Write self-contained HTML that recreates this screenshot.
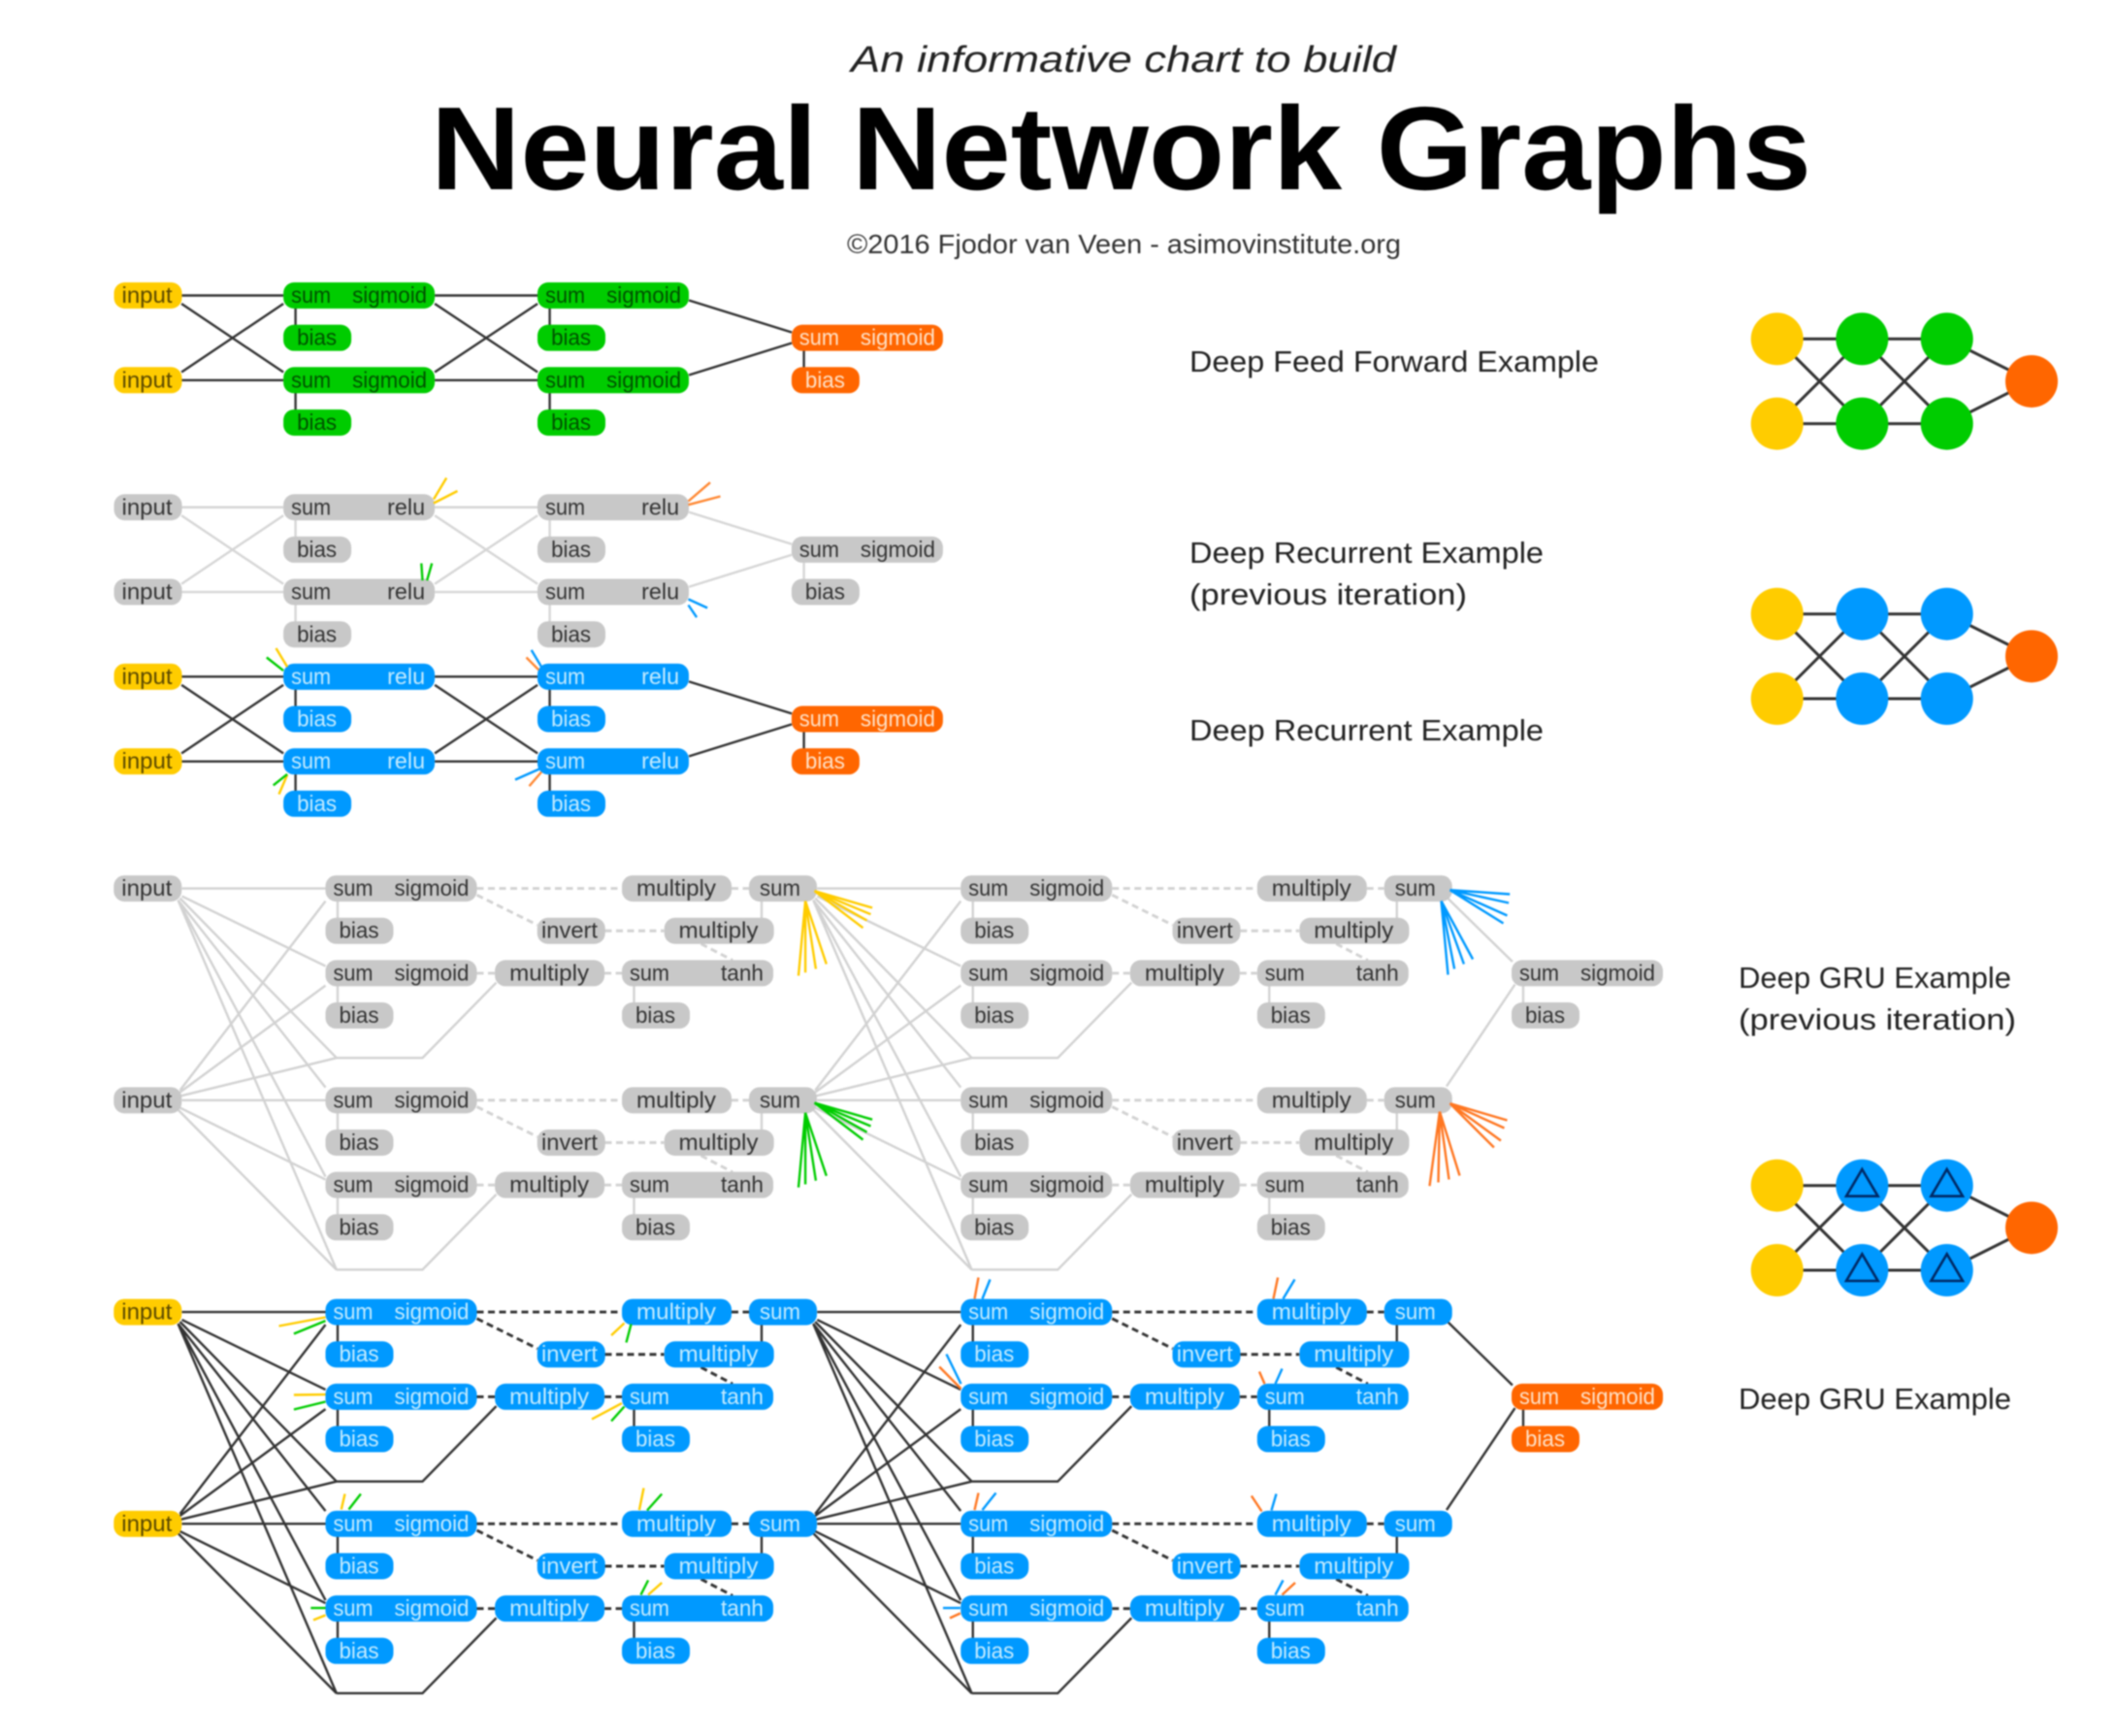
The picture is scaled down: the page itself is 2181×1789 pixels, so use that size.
<!DOCTYPE html>
<html>
<head>
<meta charset="utf-8">
<style>
html,body{margin:0;padding:0;background:#fff;width:2181px;height:1789px;overflow:hidden}
svg{display:block;filter:blur(0.7px)}
text{font-family:"Liberation Sans",sans-serif;font-size:23px}
.title{font-weight:bold;font-size:122px;fill:#000}
.sub{font-style:italic;font-size:38px;fill:#222}
.copy{font-size:28px;fill:#333}
.lab{font-size:31px;fill:#222}
.tg text{fill:#333}
.tb text{fill:#c4ebff}
.tn text{fill:#005000}
.to text{fill:#ffe2c8}
.ty{fill:#5a4800}
.ln{fill:none;stroke-width:2.4}
.tk{fill:none;stroke-width:2.4}
</style>
</head>
<body>
<svg xmlns="http://www.w3.org/2000/svg" width="2181" height="1789" viewBox="0 0 2181 1789">
<defs>
<rect id="a" y="-13.5" width="70" height="27" rx="11"/>
<rect id="b" y="-13.5" width="113" height="27" rx="11"/>
<rect id="c" y="-13.5" width="156" height="27" rx="11"/>

<g id="ffl" class="ln">
<path d="M-105 0H0M-105 87.3H0M-105 8.5L0 79M-105 79L0 8.5M156 0H262M156 87.3H262M156 8.5L262 79M156 79L262 8.5M418 5L524 38M418 82L524 49M12.5 0V43.65M12.5 87.3V131M274.5 0V43.65M274.5 87.3V131M536.5 43.65V87.3"/>
</g>

<g id="fan" class="ln">
<path d="M-148 0H0M-148 8L0 80M-150 10L11.4 174.6M-152 12L0 205M-152 12L0 297M-152 12L11.4 393"/>
<path d="M-148 218.25H0M-150 208L0 13M-150 210L0 100M-150 214L11.4 174.6M-150 226L0 300M-152 228L11.4 393"/>
</g>

<g id="cl" class="ln">
<path d="M12.5 0V43.65M12.5 87.3V131M318 87.3V131M449.5 0V43.65"/>
<path d="M176 97L100 174.6H11.4"/>
<path stroke-width="2.9" stroke-dasharray="7 4.5" d="M156 0H305.5M418.5 0H436.5M156 6.7L218.5 37.7M288 43.65H349M387 57L419.6 74M156 87.3H174.6M287.6 87.3H305.5"/>
</g>

<g id="cp">
<use href="#c" x="0" y="0"/>
<use href="#a" x="0" y="43.65"/>
<use href="#b" x="305.55" y="0"/>
<use href="#a" x="436.5" y="0"/>
<use href="#a" x="218.25" y="43.65"/>
<use href="#b" x="349.2" y="43.65"/>
<use href="#c" x="0" y="87.3"/>
<use href="#a" x="0" y="130.95"/>
<use href="#b" x="174.6" y="87.3"/>
<use href="#c" x="305.55" y="87.3"/>
<use href="#a" x="305.55" y="130.95"/>
</g>

<g id="net" fill="none" stroke="#333" stroke-width="3">
<path d="M0 0H175M0 87.3H175M0 0L87.5 87.3M0 87.3L87.5 0M87.5 0L175 87.3M87.5 87.3L175 0M175 0L262.3 43.65M175 87.3L262.3 43.65"/>
</g>
<path id="tri" d="M0 -16.7L16.3 11H-16.3Z" fill="none" stroke="#002a66" stroke-width="2.6"/>
</defs>

<rect width="2181" height="1789" fill="#fff"/>

<!-- Titles -->
<text class="sub" x="877" y="74" textLength="562" lengthAdjust="spacingAndGlyphs">An informative chart to build</text>
<text class="title" x="444" y="195" textLength="1423" lengthAdjust="spacingAndGlyphs">Neural Network Graphs</text>
<text class="copy" x="873" y="261" textLength="571" lengthAdjust="spacingAndGlyphs">©2016 Fjodor van Veen - asimovinstitute.org</text>

<text class="lab" x="1226" y="383" textLength="422" lengthAdjust="spacingAndGlyphs">Deep Feed Forward Example</text>
<text class="lab" x="1226" y="580" textLength="365" lengthAdjust="spacingAndGlyphs">Deep Recurrent Example</text>
<text class="lab" x="1226" y="623" textLength="286" lengthAdjust="spacingAndGlyphs">(previous iteration)</text>
<text class="lab" x="1226" y="763" textLength="365" lengthAdjust="spacingAndGlyphs">Deep Recurrent Example</text>
<text class="lab" x="1792" y="1018" textLength="281" lengthAdjust="spacingAndGlyphs">Deep GRU Example</text>
<text class="lab" x="1792" y="1061" textLength="286" lengthAdjust="spacingAndGlyphs">(previous iteration)</text>
<text class="lab" x="1792" y="1452" textLength="281" lengthAdjust="spacingAndGlyphs">Deep GRU Example</text>

<g transform="translate(-2.5,-1.5)">
<!-- Deep feed forward -->
<g transform="translate(294.6,306)">
<use href="#ffl" stroke="#333"/>
<g fill="#ffcc00"><use href="#a" x="-174.6" y="0"/><use href="#a" x="-174.6" y="87.3"/></g>
<g fill="#00cc00"><use href="#c" x="0" y="0"/><use href="#a" x="0" y="43.65"/><use href="#c" x="0" y="87.3"/><use href="#a" x="0" y="130.95"/><use href="#c" x="261.9" y="0"/><use href="#a" x="261.9" y="43.65"/><use href="#c" x="261.9" y="87.3"/><use href="#a" x="261.9" y="130.95"/></g>
<g fill="#ff6600"><use href="#c" x="523.8" y="43.65"/><use href="#a" x="523.8" y="87.3"/></g>
<text class="ty" x="-166.6" y="7.5" textLength="52" lengthAdjust="spacingAndGlyphs">input</text>
<text class="ty" x="-166.6" y="94.8" textLength="52" lengthAdjust="spacingAndGlyphs">input</text>
<g class="tn">
<text x="8" y="7.5" textLength="41" lengthAdjust="spacingAndGlyphs">sum</text><text x="71" y="7.5" textLength="77" lengthAdjust="spacingAndGlyphs">sigmoid</text>
<text x="14" y="51" textLength="41" lengthAdjust="spacingAndGlyphs">bias</text>
<text x="8" y="94.8" textLength="41" lengthAdjust="spacingAndGlyphs">sum</text><text x="71" y="94.8" textLength="77" lengthAdjust="spacingAndGlyphs">sigmoid</text>
<text x="14" y="138.5" textLength="41" lengthAdjust="spacingAndGlyphs">bias</text>
<text x="270" y="7.5" textLength="41" lengthAdjust="spacingAndGlyphs">sum</text><text x="333" y="7.5" textLength="77" lengthAdjust="spacingAndGlyphs">sigmoid</text>
<text x="276" y="51" textLength="41" lengthAdjust="spacingAndGlyphs">bias</text>
<text x="270" y="94.8" textLength="41" lengthAdjust="spacingAndGlyphs">sum</text><text x="333" y="94.8" textLength="77" lengthAdjust="spacingAndGlyphs">sigmoid</text>
<text x="276" y="138.5" textLength="41" lengthAdjust="spacingAndGlyphs">bias</text>
</g>
<g class="to">
<text x="531.8" y="51" textLength="41" lengthAdjust="spacingAndGlyphs">sum</text><text x="594.8" y="51" textLength="77" lengthAdjust="spacingAndGlyphs">sigmoid</text>
<text x="537.8" y="94.8" textLength="41" lengthAdjust="spacingAndGlyphs">bias</text>
</g>
</g>

<!-- Deep recurrent previous (grey) -->
<g transform="translate(294.6,524.25)">
<use href="#ffl" stroke="#d6d6d6"/>
<g fill="#c8c8c8"><use href="#a" x="-174.6" y="0"/><use href="#a" x="-174.6" y="87.3"/><use href="#c" x="0" y="0"/><use href="#a" x="0" y="43.65"/><use href="#c" x="0" y="87.3"/><use href="#a" x="0" y="130.95"/><use href="#c" x="261.9" y="0"/><use href="#a" x="261.9" y="43.65"/><use href="#c" x="261.9" y="87.3"/><use href="#a" x="261.9" y="130.95"/><use href="#c" x="523.8" y="43.65"/><use href="#a" x="523.8" y="87.3"/></g>
<g class="tg">
<text x="-166.6" y="7.5" textLength="52" lengthAdjust="spacingAndGlyphs">input</text>
<text x="-166.6" y="94.8" textLength="52" lengthAdjust="spacingAndGlyphs">input</text>
<text x="8" y="7.5" textLength="41" lengthAdjust="spacingAndGlyphs">sum</text><text x="107" y="7.5" textLength="39" lengthAdjust="spacingAndGlyphs">relu</text>
<text x="14" y="51" textLength="41" lengthAdjust="spacingAndGlyphs">bias</text>
<text x="8" y="94.8" textLength="41" lengthAdjust="spacingAndGlyphs">sum</text><text x="107" y="94.8" textLength="39" lengthAdjust="spacingAndGlyphs">relu</text>
<text x="14" y="138.5" textLength="41" lengthAdjust="spacingAndGlyphs">bias</text>
<text x="270" y="7.5" textLength="41" lengthAdjust="spacingAndGlyphs">sum</text><text x="369" y="7.5" textLength="39" lengthAdjust="spacingAndGlyphs">relu</text>
<text x="276" y="51" textLength="41" lengthAdjust="spacingAndGlyphs">bias</text>
<text x="270" y="94.8" textLength="41" lengthAdjust="spacingAndGlyphs">sum</text><text x="369" y="94.8" textLength="39" lengthAdjust="spacingAndGlyphs">relu</text>
<text x="276" y="138.5" textLength="41" lengthAdjust="spacingAndGlyphs">bias</text>
<text x="531.8" y="51" textLength="41" lengthAdjust="spacingAndGlyphs">sum</text><text x="594.8" y="51" textLength="77" lengthAdjust="spacingAndGlyphs">sigmoid</text>
<text x="537.8" y="94.8" textLength="41" lengthAdjust="spacingAndGlyphs">bias</text>
</g>
</g>

<!-- Deep recurrent (blue) -->
<g transform="translate(294.6,698.85)">
<use href="#ffl" stroke="#333"/>
<g fill="#ffcc00"><use href="#a" x="-174.6" y="0"/><use href="#a" x="-174.6" y="87.3"/></g>
<g fill="#0099ff"><use href="#c" x="0" y="0"/><use href="#a" x="0" y="43.65"/><use href="#c" x="0" y="87.3"/><use href="#a" x="0" y="130.95"/><use href="#c" x="261.9" y="0"/><use href="#a" x="261.9" y="43.65"/><use href="#c" x="261.9" y="87.3"/><use href="#a" x="261.9" y="130.95"/></g>
<g fill="#ff6600"><use href="#c" x="523.8" y="43.65"/><use href="#a" x="523.8" y="87.3"/></g>
<text class="ty" x="-166.6" y="7.5" textLength="52" lengthAdjust="spacingAndGlyphs">input</text>
<text class="ty" x="-166.6" y="94.8" textLength="52" lengthAdjust="spacingAndGlyphs">input</text>
<g class="tb">
<text x="8" y="7.5" textLength="41" lengthAdjust="spacingAndGlyphs">sum</text><text x="107" y="7.5" textLength="39" lengthAdjust="spacingAndGlyphs">relu</text>
<text x="14" y="51" textLength="41" lengthAdjust="spacingAndGlyphs">bias</text>
<text x="8" y="94.8" textLength="41" lengthAdjust="spacingAndGlyphs">sum</text><text x="107" y="94.8" textLength="39" lengthAdjust="spacingAndGlyphs">relu</text>
<text x="14" y="138.5" textLength="41" lengthAdjust="spacingAndGlyphs">bias</text>
<text x="270" y="7.5" textLength="41" lengthAdjust="spacingAndGlyphs">sum</text><text x="369" y="7.5" textLength="39" lengthAdjust="spacingAndGlyphs">relu</text>
<text x="276" y="51" textLength="41" lengthAdjust="spacingAndGlyphs">bias</text>
<text x="270" y="94.8" textLength="41" lengthAdjust="spacingAndGlyphs">sum</text><text x="369" y="94.8" textLength="39" lengthAdjust="spacingAndGlyphs">relu</text>
<text x="276" y="138.5" textLength="41" lengthAdjust="spacingAndGlyphs">bias</text>
</g>
<g class="to">
<text x="531.8" y="51" textLength="41" lengthAdjust="spacingAndGlyphs">sum</text><text x="594.8" y="51" textLength="77" lengthAdjust="spacingAndGlyphs">sigmoid</text>
<text x="537.8" y="94.8" textLength="41" lengthAdjust="spacingAndGlyphs">bias</text>
</g>
</g>

<!-- Small ticks, recurrent sections -->
<g class="tk">
<path stroke="#ffcc00" d="M449.5 516L462.7 494M449.5 520L474 507.5"/>
<path stroke="#ff8833" d="M712 518L734.5 498.7M712 521.7L745 513"/>
<path stroke="#00cc00" d="M438 599.7L436.8 582M442.6 599.7L447.7 582"/>
<path stroke="#0099ff" d="M712 625L720.6 637.7M712 619L731.6 628"/>
<path stroke="#ffcc00" d="M298.6 688.7L287 669.5M298.6 800L290 820"/>
<path stroke="#00cc00" d="M294.6 692.6L277.3 679M298.6 799.3L284.2 810.8"/>
<path stroke="#0099ff" d="M560.6 688.7L550.2 671.4M560.6 793L533.5 805"/>
<path stroke="#ff8833" d="M557.7 691.8L545 679M560.6 797L548 811.6"/>
</g>

<!-- GRU grey lines -->
<g stroke="#d2d2d2">
<use href="#fan" x="338" y="917.1"/>
<use href="#fan" x="992.75" y="917.1"/>
<use href="#cl" x="338" y="917.1"/>
<use href="#cl" x="338" y="1135.35"/>
<use href="#cl" x="992.75" y="917.1"/>
<use href="#cl" x="992.75" y="1135.35"/>
<path class="ln" d="M1495 927.5L1561.4 992.5M1493.5 1121L1564 1016M1572.5 1004.4V1048"/>
</g>

<!-- GRU blue lines -->
<g stroke="#333">
<use href="#fan" x="338" y="1353.6"/>
<use href="#fan" x="992.75" y="1353.6"/>
<use href="#cl" x="338" y="1353.6"/>
<use href="#cl" x="338" y="1571.85"/>
<use href="#cl" x="992.75" y="1353.6"/>
<use href="#cl" x="992.75" y="1571.85"/>
<path class="ln" d="M1495 1364L1561.4 1429M1493.5 1557.6L1564 1452.6M1572.5 1441V1484.6"/>
</g>

<!-- GRU grey pills -->
<g fill="#c8c8c8">
<use href="#a" x="119.75" y="917.1"/><use href="#a" x="119.75" y="1135.35"/>
<use href="#cp" x="338" y="917.1"/><use href="#cp" x="338" y="1135.35"/>
<use href="#cp" x="992.75" y="917.1"/><use href="#cp" x="992.75" y="1135.35"/>
<use href="#c" x="1560.5" y="1004.4"/><use href="#a" x="1560.5" y="1048"/>
</g>
<!-- GRU blue pills -->
<g fill="#ffcc00"><use href="#a" x="119.75" y="1353.6"/><use href="#a" x="119.75" y="1571.85"/></g>
<g fill="#0099ff">
<use href="#cp" x="338" y="1353.6"/><use href="#cp" x="338" y="1571.85"/>
<use href="#cp" x="992.75" y="1353.6"/><use href="#cp" x="992.75" y="1571.85"/>
</g>
<g fill="#ff6600"><use href="#c" x="1560.5" y="1440.9"/><use href="#a" x="1560.5" y="1484.55"/></g>

<!-- GRU text grey -->
<g class="tg">
<text x="127.75" y="924.6" textLength="52" lengthAdjust="spacingAndGlyphs">input</text>
<text x="127.75" y="1142.85" textLength="52" lengthAdjust="spacingAndGlyphs">input</text>
<text x="1568.5" y="1011.9" textLength="41" lengthAdjust="spacingAndGlyphs">sum</text><text x="1631.5" y="1011.9" textLength="77" lengthAdjust="spacingAndGlyphs">sigmoid</text>
<text x="1574.5" y="1055.5" textLength="41" lengthAdjust="spacingAndGlyphs">bias</text>
<g transform="translate(338,917.1)">
<text x="8" y="7.5" textLength="41" lengthAdjust="spacingAndGlyphs">sum</text><text x="71" y="7.5" textLength="77" lengthAdjust="spacingAndGlyphs">sigmoid</text><text x="14" y="51" textLength="41" lengthAdjust="spacingAndGlyphs">bias</text><text x="320.5" y="7.5" textLength="82" lengthAdjust="spacingAndGlyphs">multiply</text><text x="447.5" y="7.5" textLength="42" lengthAdjust="spacingAndGlyphs">sum</text><text x="222.5" y="51" textLength="58" lengthAdjust="spacingAndGlyphs">invert</text><text x="364" y="51" textLength="82" lengthAdjust="spacingAndGlyphs">multiply</text><text x="8" y="94.8" textLength="41" lengthAdjust="spacingAndGlyphs">sum</text><text x="71" y="94.8" textLength="77" lengthAdjust="spacingAndGlyphs">sigmoid</text><text x="14" y="138.5" textLength="41" lengthAdjust="spacingAndGlyphs">bias</text><text x="189.6" y="94.8" textLength="82" lengthAdjust="spacingAndGlyphs">multiply</text><text x="313.5" y="94.8" textLength="41" lengthAdjust="spacingAndGlyphs">sum</text><text x="407.5" y="94.8" textLength="44" lengthAdjust="spacingAndGlyphs">tanh</text><text x="319.5" y="138.5" textLength="41" lengthAdjust="spacingAndGlyphs">bias</text>
</g>
<g transform="translate(338,1135.35)">
<text x="8" y="7.5" textLength="41" lengthAdjust="spacingAndGlyphs">sum</text><text x="71" y="7.5" textLength="77" lengthAdjust="spacingAndGlyphs">sigmoid</text><text x="14" y="51" textLength="41" lengthAdjust="spacingAndGlyphs">bias</text><text x="320.5" y="7.5" textLength="82" lengthAdjust="spacingAndGlyphs">multiply</text><text x="447.5" y="7.5" textLength="42" lengthAdjust="spacingAndGlyphs">sum</text><text x="222.5" y="51" textLength="58" lengthAdjust="spacingAndGlyphs">invert</text><text x="364" y="51" textLength="82" lengthAdjust="spacingAndGlyphs">multiply</text><text x="8" y="94.8" textLength="41" lengthAdjust="spacingAndGlyphs">sum</text><text x="71" y="94.8" textLength="77" lengthAdjust="spacingAndGlyphs">sigmoid</text><text x="14" y="138.5" textLength="41" lengthAdjust="spacingAndGlyphs">bias</text><text x="189.6" y="94.8" textLength="82" lengthAdjust="spacingAndGlyphs">multiply</text><text x="313.5" y="94.8" textLength="41" lengthAdjust="spacingAndGlyphs">sum</text><text x="407.5" y="94.8" textLength="44" lengthAdjust="spacingAndGlyphs">tanh</text><text x="319.5" y="138.5" textLength="41" lengthAdjust="spacingAndGlyphs">bias</text>
</g>
<g transform="translate(992.75,917.1)">
<text x="8" y="7.5" textLength="41" lengthAdjust="spacingAndGlyphs">sum</text><text x="71" y="7.5" textLength="77" lengthAdjust="spacingAndGlyphs">sigmoid</text><text x="14" y="51" textLength="41" lengthAdjust="spacingAndGlyphs">bias</text><text x="320.5" y="7.5" textLength="82" lengthAdjust="spacingAndGlyphs">multiply</text><text x="447.5" y="7.5" textLength="42" lengthAdjust="spacingAndGlyphs">sum</text><text x="222.5" y="51" textLength="58" lengthAdjust="spacingAndGlyphs">invert</text><text x="364" y="51" textLength="82" lengthAdjust="spacingAndGlyphs">multiply</text><text x="8" y="94.8" textLength="41" lengthAdjust="spacingAndGlyphs">sum</text><text x="71" y="94.8" textLength="77" lengthAdjust="spacingAndGlyphs">sigmoid</text><text x="14" y="138.5" textLength="41" lengthAdjust="spacingAndGlyphs">bias</text><text x="189.6" y="94.8" textLength="82" lengthAdjust="spacingAndGlyphs">multiply</text><text x="313.5" y="94.8" textLength="41" lengthAdjust="spacingAndGlyphs">sum</text><text x="407.5" y="94.8" textLength="44" lengthAdjust="spacingAndGlyphs">tanh</text><text x="319.5" y="138.5" textLength="41" lengthAdjust="spacingAndGlyphs">bias</text>
</g>
<g transform="translate(992.75,1135.35)">
<text x="8" y="7.5" textLength="41" lengthAdjust="spacingAndGlyphs">sum</text><text x="71" y="7.5" textLength="77" lengthAdjust="spacingAndGlyphs">sigmoid</text><text x="14" y="51" textLength="41" lengthAdjust="spacingAndGlyphs">bias</text><text x="320.5" y="7.5" textLength="82" lengthAdjust="spacingAndGlyphs">multiply</text><text x="447.5" y="7.5" textLength="42" lengthAdjust="spacingAndGlyphs">sum</text><text x="222.5" y="51" textLength="58" lengthAdjust="spacingAndGlyphs">invert</text><text x="364" y="51" textLength="82" lengthAdjust="spacingAndGlyphs">multiply</text><text x="8" y="94.8" textLength="41" lengthAdjust="spacingAndGlyphs">sum</text><text x="71" y="94.8" textLength="77" lengthAdjust="spacingAndGlyphs">sigmoid</text><text x="14" y="138.5" textLength="41" lengthAdjust="spacingAndGlyphs">bias</text><text x="189.6" y="94.8" textLength="82" lengthAdjust="spacingAndGlyphs">multiply</text><text x="313.5" y="94.8" textLength="41" lengthAdjust="spacingAndGlyphs">sum</text><text x="407.5" y="94.8" textLength="44" lengthAdjust="spacingAndGlyphs">tanh</text><text x="319.5" y="138.5" textLength="41" lengthAdjust="spacingAndGlyphs">bias</text>
</g>
</g>

<!-- GRU text blue -->
<text class="ty" x="127.75" y="1361.1" textLength="52" lengthAdjust="spacingAndGlyphs">input</text>
<text class="ty" x="127.75" y="1579.35" textLength="52" lengthAdjust="spacingAndGlyphs">input</text>
<g class="to">
<text x="1568.5" y="1448.4" textLength="41" lengthAdjust="spacingAndGlyphs">sum</text><text x="1631.5" y="1448.4" textLength="77" lengthAdjust="spacingAndGlyphs">sigmoid</text>
<text x="1574.5" y="1492" textLength="41" lengthAdjust="spacingAndGlyphs">bias</text>
</g>
<g class="tb">
<g transform="translate(338,1353.6)">
<text x="8" y="7.5" textLength="41" lengthAdjust="spacingAndGlyphs">sum</text><text x="71" y="7.5" textLength="77" lengthAdjust="spacingAndGlyphs">sigmoid</text><text x="14" y="51" textLength="41" lengthAdjust="spacingAndGlyphs">bias</text><text x="320.5" y="7.5" textLength="82" lengthAdjust="spacingAndGlyphs">multiply</text><text x="447.5" y="7.5" textLength="42" lengthAdjust="spacingAndGlyphs">sum</text><text x="222.5" y="51" textLength="58" lengthAdjust="spacingAndGlyphs">invert</text><text x="364" y="51" textLength="82" lengthAdjust="spacingAndGlyphs">multiply</text><text x="8" y="94.8" textLength="41" lengthAdjust="spacingAndGlyphs">sum</text><text x="71" y="94.8" textLength="77" lengthAdjust="spacingAndGlyphs">sigmoid</text><text x="14" y="138.5" textLength="41" lengthAdjust="spacingAndGlyphs">bias</text><text x="189.6" y="94.8" textLength="82" lengthAdjust="spacingAndGlyphs">multiply</text><text x="313.5" y="94.8" textLength="41" lengthAdjust="spacingAndGlyphs">sum</text><text x="407.5" y="94.8" textLength="44" lengthAdjust="spacingAndGlyphs">tanh</text><text x="319.5" y="138.5" textLength="41" lengthAdjust="spacingAndGlyphs">bias</text>
</g>
<g transform="translate(338,1571.85)">
<text x="8" y="7.5" textLength="41" lengthAdjust="spacingAndGlyphs">sum</text><text x="71" y="7.5" textLength="77" lengthAdjust="spacingAndGlyphs">sigmoid</text><text x="14" y="51" textLength="41" lengthAdjust="spacingAndGlyphs">bias</text><text x="320.5" y="7.5" textLength="82" lengthAdjust="spacingAndGlyphs">multiply</text><text x="447.5" y="7.5" textLength="42" lengthAdjust="spacingAndGlyphs">sum</text><text x="222.5" y="51" textLength="58" lengthAdjust="spacingAndGlyphs">invert</text><text x="364" y="51" textLength="82" lengthAdjust="spacingAndGlyphs">multiply</text><text x="8" y="94.8" textLength="41" lengthAdjust="spacingAndGlyphs">sum</text><text x="71" y="94.8" textLength="77" lengthAdjust="spacingAndGlyphs">sigmoid</text><text x="14" y="138.5" textLength="41" lengthAdjust="spacingAndGlyphs">bias</text><text x="189.6" y="94.8" textLength="82" lengthAdjust="spacingAndGlyphs">multiply</text><text x="313.5" y="94.8" textLength="41" lengthAdjust="spacingAndGlyphs">sum</text><text x="407.5" y="94.8" textLength="44" lengthAdjust="spacingAndGlyphs">tanh</text><text x="319.5" y="138.5" textLength="41" lengthAdjust="spacingAndGlyphs">bias</text>
</g>
<g transform="translate(992.75,1353.6)">
<text x="8" y="7.5" textLength="41" lengthAdjust="spacingAndGlyphs">sum</text><text x="71" y="7.5" textLength="77" lengthAdjust="spacingAndGlyphs">sigmoid</text><text x="14" y="51" textLength="41" lengthAdjust="spacingAndGlyphs">bias</text><text x="320.5" y="7.5" textLength="82" lengthAdjust="spacingAndGlyphs">multiply</text><text x="447.5" y="7.5" textLength="42" lengthAdjust="spacingAndGlyphs">sum</text><text x="222.5" y="51" textLength="58" lengthAdjust="spacingAndGlyphs">invert</text><text x="364" y="51" textLength="82" lengthAdjust="spacingAndGlyphs">multiply</text><text x="8" y="94.8" textLength="41" lengthAdjust="spacingAndGlyphs">sum</text><text x="71" y="94.8" textLength="77" lengthAdjust="spacingAndGlyphs">sigmoid</text><text x="14" y="138.5" textLength="41" lengthAdjust="spacingAndGlyphs">bias</text><text x="189.6" y="94.8" textLength="82" lengthAdjust="spacingAndGlyphs">multiply</text><text x="313.5" y="94.8" textLength="41" lengthAdjust="spacingAndGlyphs">sum</text><text x="407.5" y="94.8" textLength="44" lengthAdjust="spacingAndGlyphs">tanh</text><text x="319.5" y="138.5" textLength="41" lengthAdjust="spacingAndGlyphs">bias</text>
</g>
<g transform="translate(992.75,1571.85)">
<text x="8" y="7.5" textLength="41" lengthAdjust="spacingAndGlyphs">sum</text><text x="71" y="7.5" textLength="77" lengthAdjust="spacingAndGlyphs">sigmoid</text><text x="14" y="51" textLength="41" lengthAdjust="spacingAndGlyphs">bias</text><text x="320.5" y="7.5" textLength="82" lengthAdjust="spacingAndGlyphs">multiply</text><text x="447.5" y="7.5" textLength="42" lengthAdjust="spacingAndGlyphs">sum</text><text x="222.5" y="51" textLength="58" lengthAdjust="spacingAndGlyphs">invert</text><text x="364" y="51" textLength="82" lengthAdjust="spacingAndGlyphs">multiply</text><text x="8" y="94.8" textLength="41" lengthAdjust="spacingAndGlyphs">sum</text><text x="71" y="94.8" textLength="77" lengthAdjust="spacingAndGlyphs">sigmoid</text><text x="14" y="138.5" textLength="41" lengthAdjust="spacingAndGlyphs">bias</text><text x="189.6" y="94.8" textLength="82" lengthAdjust="spacingAndGlyphs">multiply</text><text x="313.5" y="94.8" textLength="41" lengthAdjust="spacingAndGlyphs">sum</text><text x="407.5" y="94.8" textLength="44" lengthAdjust="spacingAndGlyphs">tanh</text><text x="319.5" y="138.5" textLength="41" lengthAdjust="spacingAndGlyphs">bias</text>
</g>
</g>

<!-- GRU fans of colored ticks -->
<g class="tk">
<path stroke="#ffcc00" d="M842 919.7L901.6 937M842 919.7L900 943.7M842 919.7L896 950M842 919.7L892 957.7M832.6 930L825.5 1007M832.6 930L832.6 1003.7M832.6 930L843.4 1000M832.6 930L854.3 995"/>
<path stroke="#00cc00" d="M842 1138L901.6 1155.2M842 1138L900 1162M842 1138L896 1168.2M842 1138L892 1176M832.6 1148.2L825.5 1225.2M832.6 1148.2L832.6 1222M832.6 1148.2L843.4 1218.2M832.6 1148.2L854.3 1213.2"/>
<path stroke="#0099ff" d="M1497 918.7L1558.7 923M1497 918.7L1557.6 932M1497 918.7L1556 945M1497 918.7L1552 953M1488 930L1495 1006M1488 930L1501.6 1000M1488 930L1511.4 995M1488 930L1520.6 990"/>
<path stroke="#ff7722" d="M1497 1138.7L1556 1156M1497 1138.7L1553 1164M1497 1138.7L1549.5 1177M1497 1138.7L1542.4 1184M1486.4 1147L1476 1223.7M1486.4 1147L1485 1220M1486.4 1147L1496 1217M1486.4 1147L1507 1213"/>
<!-- GRU blue section small ticks -->
<path stroke="#ffcc00" d="M338 1359L290 1368M338 1438.6L305.4 1439M646 1365L632.6 1377.6M643.4 1447.6L612.5 1464M354.3 1557L358 1541M661.4 1557.6L666 1535M338 1666L325.5 1671M670.6 1645L684.7 1632.5"/>
<path stroke="#00cc00" d="M338 1362.6L305.4 1376M338 1446L305.4 1454M653 1366L648 1385M646 1451L632.6 1466M362 1557L374.4 1541M669.5 1558L684.7 1541M338 1658.6L322.8 1658.6M663 1645L670.6 1630"/>
<path stroke="#ff7722" d="M1007 1340L1011 1318M1315 1340L1319.6 1318M993 1432.6L970.7 1410M1306 1427.6L1300.5 1415M1007 1557.6L1011 1540M1303 1559L1292.4 1543M992.4 1664L981.5 1669M1324 1645L1337.5 1632.5"/>
<path stroke="#0099ff" d="M1015 1340L1023 1320M1325 1340L1337 1320M993 1427.6L978 1397M1317 1427.6L1324 1412M1015 1557.6L1029 1540M1313 1558L1318 1541M992.4 1658.6L974.5 1658.6M1317 1645L1325 1630"/>
</g>
</g>

<!-- Right-hand mini networks -->
<g transform="translate(1831.7,349.3)">
<use href="#net"/>
<g fill="#ffcc00"><circle cx="0" cy="0" r="27"/><circle cx="0" cy="87.3" r="27"/></g>
<g fill="#00cc00"><circle cx="87.6" cy="0" r="27"/><circle cx="87.6" cy="87.3" r="27"/><circle cx="175" cy="0" r="27"/><circle cx="175" cy="87.3" r="27"/></g>
<circle cx="262.3" cy="43.65" r="27" fill="#ff6600"/>
</g>
<g transform="translate(1831.7,632.7)">
<use href="#net"/>
<g fill="#ffcc00"><circle cx="0" cy="0" r="27"/><circle cx="0" cy="87.3" r="27"/></g>
<g fill="#0099ff"><circle cx="87.6" cy="0" r="27"/><circle cx="87.6" cy="87.3" r="27"/><circle cx="175" cy="0" r="27"/><circle cx="175" cy="87.3" r="27"/></g>
<circle cx="262.3" cy="43.65" r="27" fill="#ff6600"/>
</g>
<g transform="translate(1831.7,1221.7)">
<use href="#net"/>
<g fill="#ffcc00"><circle cx="0" cy="0" r="27"/><circle cx="0" cy="87.3" r="27"/></g>
<g fill="#0099ff"><circle cx="87.6" cy="0" r="27"/><circle cx="87.6" cy="87.3" r="27"/><circle cx="175" cy="0" r="27"/><circle cx="175" cy="87.3" r="27"/></g>
<circle cx="262.3" cy="43.65" r="27" fill="#ff6600"/>
<use href="#tri" x="87.6" y="0"/><use href="#tri" x="87.6" y="87.3"/><use href="#tri" x="175" y="0"/><use href="#tri" x="175" y="87.3"/>
</g>
</svg>
</body>
</html>
